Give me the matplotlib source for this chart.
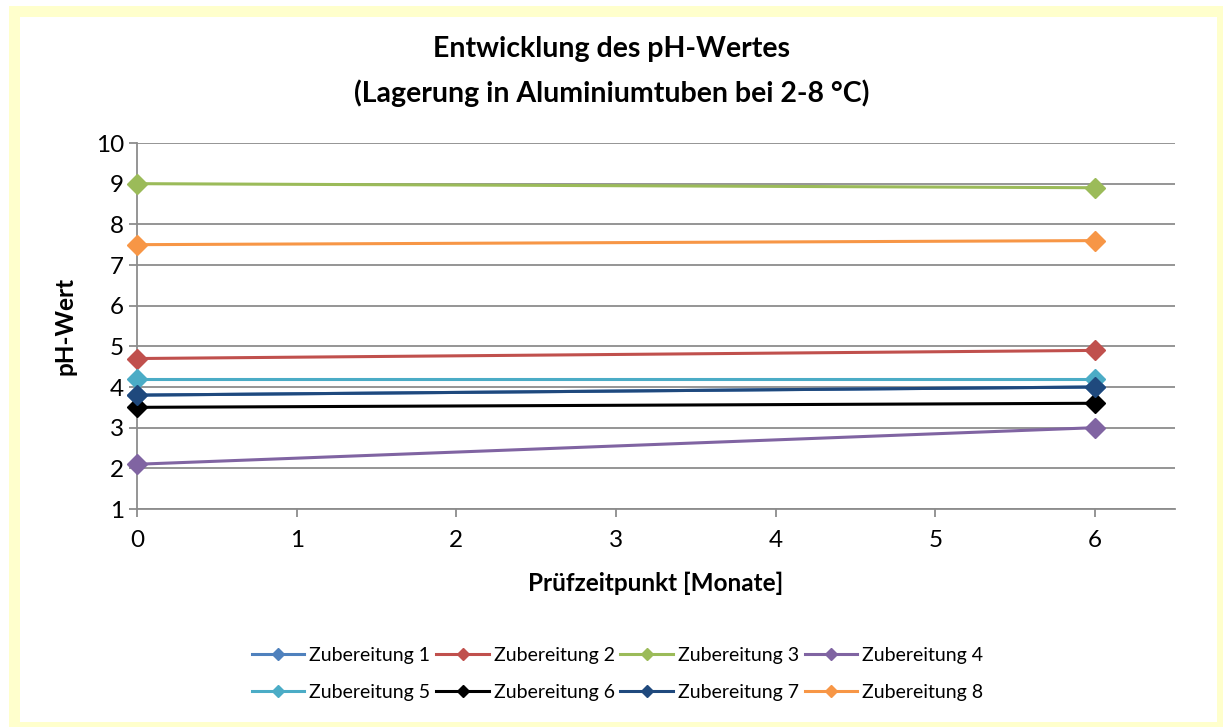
import numpy as np
import matplotlib
matplotlib.use("Agg")
import matplotlib.pyplot as plt
from matplotlib.patches import Rectangle

plt.rcParams['font.family'] = ['Lato', 'DejaVu Sans']

# data
months = [0, 6]
series_names = ['Zubereitung 1', 'Zubereitung 2', 'Zubereitung 3', 'Zubereitung 4',
                'Zubereitung 5', 'Zubereitung 6', 'Zubereitung 7', 'Zubereitung 8']
ph_values = [
    [3.8, 4.0],
    [4.7, 4.9],
    [9.0, 8.9],
    [2.1, 3.0],
    [4.2, 4.2],
    [3.5, 3.6],
    [3.8, 4.0],
    [7.5, 7.6],
]
colors = ['#4F81BD', '#C0504D', '#9BBB59', '#8064A2',
          '#4BACC6', '#000000', '#1F497D', '#F79646']
x_ticks = [0, 1, 2, 3, 4, 5, 6]
y_ticks = [1, 2, 3, 4, 5, 6, 7, 8, 9, 10]

W, H = 1223, 727
fig = plt.figure(figsize=(W / 100, H / 100), dpi=100)
fig.patch.set_facecolor('white')

# pale yellow frame around the chart
bw = 11
fig.patches.append(Rectangle((13.5 / W, (H - 727) / H), (1221.5 - 13.5) / W, (727 - 11) / H,
                             transform=fig.transFigure, fill=False,
                             edgecolor='#FFFFCC', linewidth=bw * 0.72, zorder=0))

ax = fig.add_axes([137 / W, (H - 509) / H, (1175 - 137) / W, (509 - 143) / H])

lines = []
for name, vals, c in zip(series_names, ph_values, colors):
    ln, = ax.plot(months, vals, color=c, lw=2.2, marker='D', ms=10, label=name,
                  markeredgecolor=c, clip_on=False, zorder=3)
    lines.append(ln)

ax.set_xlim(0, 6.5)
ax.set_ylim(1, 10)
ax.set_xticks(x_ticks)
ax.set_yticks(y_ticks)
ax.grid(axis='y', color='#8C8C8C', lw=1.3)
ax.set_axisbelow(True)
for s in ['top', 'right']:
    ax.spines[s].set_visible(False)
for s in ['left', 'bottom']:
    ax.spines[s].set_color('#8C8C8C')
    ax.spines[s].set_linewidth(1.3)
ax.tick_params(axis='both', colors='#8C8C8C', labelcolor='black', labelsize=17.5,
               length=6, width=1.3, direction='out')
ax.tick_params(axis='x', pad=9)

ax.set_xlabel('Prüfzeitpunkt [Monate]', fontsize=17.5, fontweight='bold', labelpad=15)
ax.set_ylabel('pH-Wert', fontsize=17.5, fontweight='bold', labelpad=14)

fig.text(0.5, 1 - 49 / H, 'Entwicklung des pH-Wertes', ha='center', va='center',
         fontsize=20.5, fontweight='bold')
fig.text(0.5, 1 - 93 / H, '(Lagerung in Aluminiumtuben bei 2-8 °C)', ha='center', va='center',
         fontsize=20.5, fontweight='bold')

# legend filled row by row, like the original
order = [0, 4, 1, 5, 2, 6, 3, 7]
leg = fig.legend([lines[i] for i in order], [series_names[i] for i in order],
                 loc='center', bbox_to_anchor=(0.505, 1 - 674 / H), ncol=4, frameon=False,
                 fontsize=14, handlelength=2.7, handletextpad=0.25, columnspacing=0.3,
                 labelspacing=1.05, markerscale=0.65)

fig.savefig('out.png', dpi=100)
